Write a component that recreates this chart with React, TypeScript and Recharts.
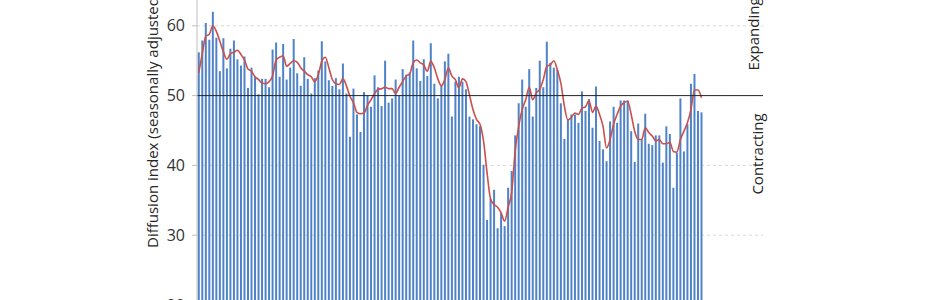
import {
  Bar,
  CartesianGrid,
  ComposedChart,
  Line,
  ReferenceLine,
  XAxis,
  YAxis,
} from "recharts";

// monthly diffusion index
const indexValues = [
  56.2, 57.9, 60.4, 58.0, 62.0, 58.3, 53.5, 58.2, 53.9, 56.7, 57.9, 55.2,
  54.3, 55.6, 51.1, 54.0, 52.7, 50.2, 52.4, 52.4, 51.2, 56.6, 57.6, 52.7,
  57.4, 52.3, 54.0, 58.1, 53.2, 51.4, 55.5, 52.4, 50.3, 52.5, 53.6, 57.8,
  54.9, 52.2, 51.4, 52.5, 50.9, 54.6, 50.3, 44.1, 51.0, 47.3, 44.8, 50.5,
  50.0, 48.4, 52.9, 51.2, 48.5, 55.0, 49.0, 49.6, 52.3, 50.0, 53.8, 53.0,
  53.3, 57.9, 53.9, 52.1, 55.2, 52.8, 57.5, 51.7, 49.6, 51.4, 54.9, 56.0,
  47.0, 52.0, 52.7, 52.0, 50.9, 47.0, 46.6, 45.9, 45.6, 40.1, 32.2, 35.2,
  36.5, 31.0, 33.2, 31.3, 36.8, 39.2, 44.3, 48.9, 52.3, 48.4, 53.8, 47.0,
  51.1, 55.0, 51.2, 57.7, 54.7, 54.0, 53.7, 48.9, 43.8, 46.6, 47.3, 47.3,
  46.1, 50.6, 47.8, 49.5, 45.4, 51.3, 43.5, 42.3, 40.6, 46.3, 48.4, 46.1,
  49.3, 49.3, 49.3, 44.9, 40.5, 46.0, 43.7, 47.4, 43.1, 42.9, 44.3, 44.3,
  40.4, 45.6, 44.5, 36.8, 41.8, 49.6, 42.0, 45.9, 51.7, 53.1, 47.8, 47.6,
];

// smoothed trend (red line)
const trendValues = [
  53.3, 56.0, 58.5, 58.8, 60.0, 59.2, 57.8, 56.3, 55.2, 56.0, 56.2, 56.5,
  55.9, 55.1, 53.8, 53.5, 52.7, 52.3, 51.8, 51.7, 52.0, 52.8, 55.1, 55.5,
  55.7, 54.2, 54.6, 55.0, 54.8, 54.0, 53.5, 53.0, 52.7, 52.0, 53.0, 54.9,
  55.5, 54.0, 52.3, 51.7, 51.6, 52.4, 51.4, 49.9, 49.0, 47.6, 47.4, 47.5,
  48.6, 49.4, 50.3, 50.9, 51.0, 51.2, 51.0, 51.0, 50.3, 51.2, 52.0, 52.8,
  53.1, 54.7, 55.1, 54.7, 54.4, 53.5, 54.9, 54.0, 52.4, 51.4, 52.3, 54.0,
  52.8, 52.3, 51.1, 52.4, 52.0, 50.1, 48.0, 46.6, 45.9, 43.5, 39.0, 35.2,
  34.4, 34.0, 33.2, 32.0, 34.0, 36.1, 42.0, 45.6, 48.0, 49.4, 51.2, 49.4,
  50.4, 50.9, 52.3, 54.2, 54.4, 55.0, 53.7, 51.8, 48.5, 46.5, 46.9, 47.5,
  47.3, 48.2, 48.4, 49.3, 47.6, 48.5, 47.3, 45.6, 42.5, 43.7, 45.9, 47.3,
  48.5, 49.0, 49.2, 47.3, 44.9, 43.7, 43.7, 45.4, 44.7, 44.2, 43.5, 43.7,
  43.1, 43.1, 43.3, 42.0, 41.9, 43.7, 44.9, 46.1, 48.0, 50.8, 50.8, 49.7,
];

const EMPTY_SLOTS = 17;
const yTicks = [20, 30, 40, 50, 60, 70];

const FONT = "'Open Sans', sans-serif";

const data = [
  ...indexValues.map((value, i) => ({ idx: i, value, trend: trendValues[i] })),
  ...Array.from({ length: EMPTY_SLOTS }, (_, i) => ({ idx: indexValues.length + i })),
];

export default function App() {
  return (
    <div
      style={{
        position: "absolute",
        left: 0,
        top: 0,
        width: 930,
        height: 300,
        overflow: "hidden",
        background: "#fff",
        fontFamily: FONT,
      }}
    >
      <div style={{ position: "absolute", left: 0, top: -60 }}>
        <ComposedChart
          width={930}
          height={400}
          data={data}
          margin={{ top: 16, right: 167, bottom: 35, left: 0 }}
          barCategoryGap="22%"
        >
          <CartesianGrid
            vertical={false}
            stroke="#d9d9d9"
            strokeDasharray="3 3"
          />
          <XAxis dataKey="idx" hide />
          <YAxis
            width={197}
            domain={[20, 70]}
            ticks={yTicks}
            allowDataOverflow
            tickSize={5}
            tickMargin={7}
            axisLine={{ stroke: "#bfbfbf" }}
            tickLine={{ stroke: "#bfbfbf" }}
            tick={{ fill: "#333", fontSize: 16, fontFamily: FONT }}
          />
          <Bar dataKey="value" fill="#4f83c8" isAnimationActive={false} />
          <Line
            dataKey="trend"
            type="monotone"
            stroke="#cc4f4b"
            strokeWidth={1.6}
            dot={false}
            isAnimationActive={false}
          />
          <ReferenceLine y={50} stroke="#262626" strokeWidth={1} />
        </ComposedChart>
      </div>
      <div
        style={{
          position: "absolute",
          left: 143,
          top: 248,
          transformOrigin: "0 0",
          transform: "rotate(-90deg)",
          whiteSpace: "nowrap",
          fontSize: 15,
          lineHeight: "19px",
          color: "#262626",
        }}
      >
        Diffusion index (seasonally adjusted)
      </div>
      <div
        style={{
          position: "absolute",
          left: 753,
          top: 34,
          transform: "translate(-50%, -50%) rotate(-90deg)",
          whiteSpace: "nowrap",
          fontSize: 15,
          color: "#262626",
        }}
      >
        Expanding
      </div>
      <div
        style={{
          position: "absolute",
          left: 757,
          top: 154,
          transform: "translate(-50%, -50%) rotate(-90deg)",
          whiteSpace: "nowrap",
          fontSize: 15,
          color: "#262626",
        }}
      >
        Contracting
      </div>
    </div>
  );
}
